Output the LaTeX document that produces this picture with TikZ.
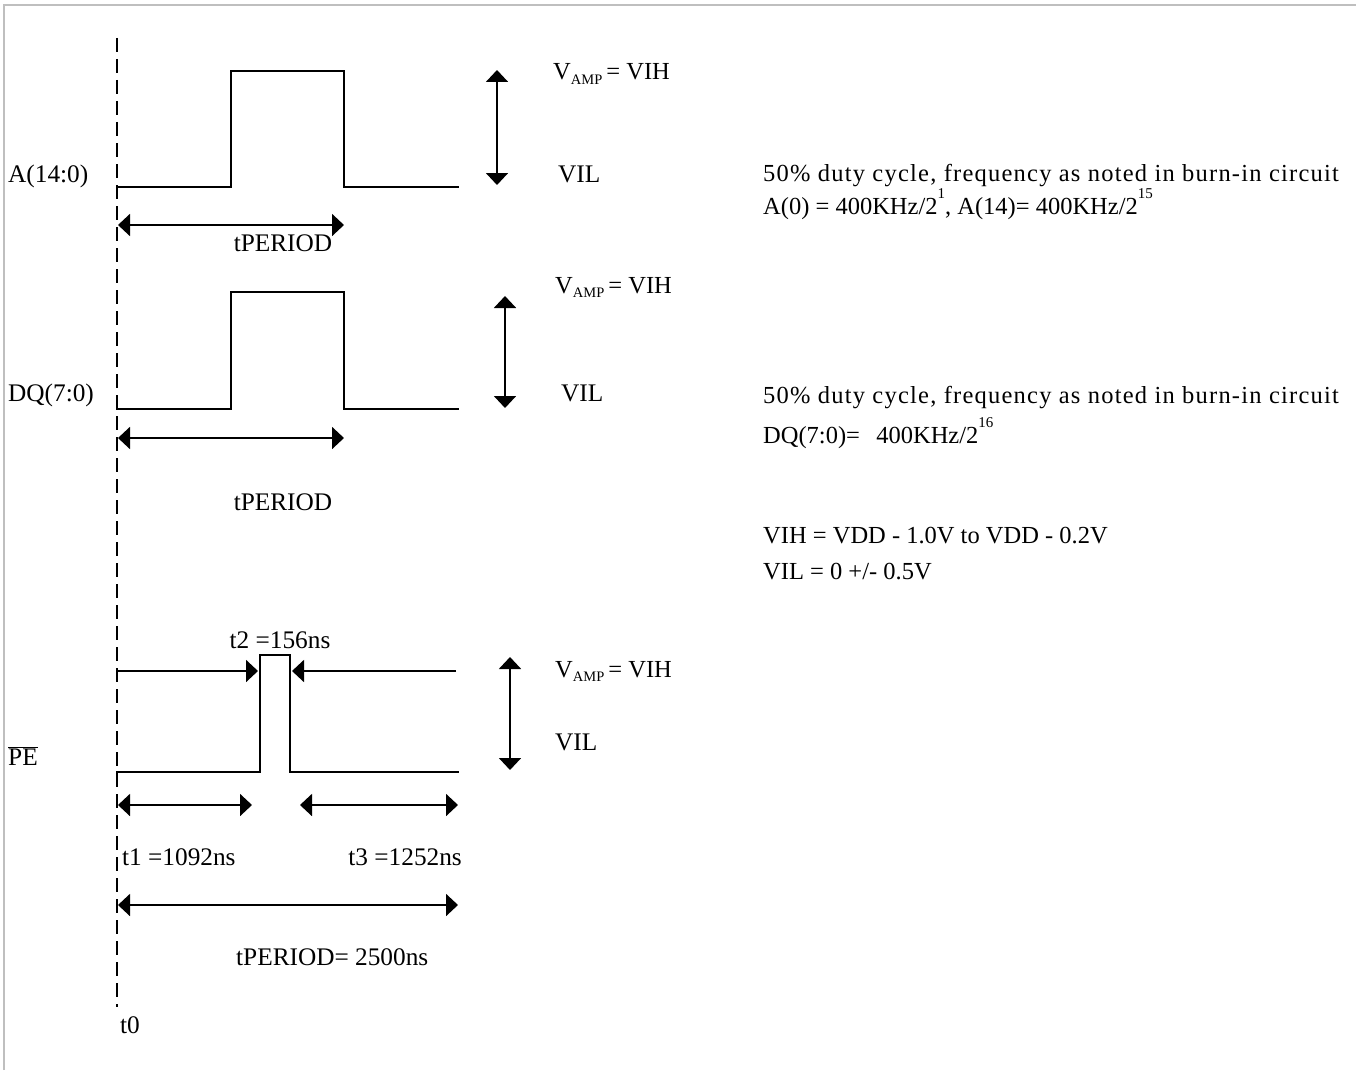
\documentclass[tikz,border=0pt]{standalone}
\usepackage{fontspec}
\setmainfont{Liberation Serif}
\usetikzlibrary{arrows.meta}
\newcommand{\vamp}{V\raisebox{-0.18em}{\fontsize{14.5}{15}\selectfont AMP}\,= VIH}
\newcommand{\supx}[1]{\raisebox{0.62em}{\fontsize{15}{15}\selectfont #1}}
\begin{document}
\begin{tikzpicture}[x=1pt,y=-1pt,
  wave/.style={line width=2.8pt, line join=miter, line cap=rect},
  dimline/.style={line width=1.9pt, {Triangle[length=12pt,width=22pt]}-{Triangle[length=12pt,width=22pt]}},
  onetip/.style={line width=1.9pt, -{Triangle[length=12pt,width=22pt]}},
  txt/.style={inner sep=0pt, anchor=base west, font=\fontsize{25.3}{29}\selectfont},
  txtc/.style={inner sep=0pt, anchor=base, font=\fontsize{25.3}{29}\selectfont},
  txte/.style={inner sep=0pt, anchor=base east, font=\fontsize{25.3}{29}\selectfont},
  note/.style={inner sep=0pt, anchor=base west, font=\fontsize{24.5}{29}\selectfont},
  wide/.style={inner sep=0pt, anchor=base west, font=\fontsize{24.5}{29}\selectfont\addfontfeature{LetterSpace=5}},
  tline/.style={line width=2pt, dash pattern=on 14pt off 7pt},
  frame/.style={line width=2pt, draw=black!25}
]
\useasboundingbox (0,0) rectangle (1356,1070);
\draw[frame] (4,1070) -- (4,5) -- (1356,5);

% time origin
\coordinate (t0top) at (117,38);
\coordinate (t0bot) at (117,1007);
\draw[tline] (t0top) -- (t0bot);
\node[txt] (t0) at (120,1033) {t0};

% ---------- A(14:0) ----------
\node[txt] (labA) at (8,182) {A(14:0)};
\coordinate (a0) at (117,187);
\draw[wave] (a0) -- (231,187) -- (231,71) -- (344,71) -- (344,187) -- (458,187);
\coordinate (aL) at (118,225);
\coordinate (aR) at (344,225);
\draw[dimline] (aL) -- (aR);
\node[txtc] (perA) at (283,251) {tPERIOD};
\coordinate (avT) at (497,70);
\coordinate (avB) at (497,185);
\draw[dimline] (avT) -- (avB);
\node[note] (vampA) at (553,80) {\vamp};
\node[txt] (vilA) at (558,182) {VIL};
\node[wide] (noteA1) at (763,181) {50\% duty cycle, frequency as noted in burn-in circuit};
\node[note] (noteA2) at (763,214) {A(0) = 400KHz/2\supx{1}, A(14)= 400KHz/2\supx{15}};

% ---------- DQ(7:0) ----------
\node[txt] (labD) at (8,401) {DQ(7:0)};
\coordinate (d0) at (117,409);
\draw[wave] (d0) -- (231,409) -- (231,292) -- (344,292) -- (344,409) -- (458,409);
\coordinate (dL) at (118,438);
\coordinate (dR) at (344,438);
\draw[dimline] (dL) -- (dR);
\node[txtc] (perD) at (283,510) {tPERIOD};
\coordinate (dvT) at (505,296);
\coordinate (dvB) at (505,408);
\draw[dimline] (dvT) -- (dvB);
\node[note] (vampD) at (555,293) {\vamp};
\node[txt] (vilD) at (561,401) {VIL};
\node[wide] (noteD1) at (763,403) {50\% duty cycle, frequency as noted in burn-in circuit};
\node[note] (noteD2) at (763,443) {DQ(7:0)=\ \ \,400KHz/2\supx{16}};
\node[note] (noteV1) at (763,543) {VIH = VDD - 1.0V to VDD - 0.2V};
\node[note] (noteV2) at (763,579) {VIL = 0 +/- 0.5V};

% ---------- PE ----------
\node[txt] (labP) at (8,765) {$\overline{\hbox{PE}}$};
\coordinate (p0) at (117,772);
\draw[wave] (p0) -- (260,772) -- (260,655) -- (290,655) -- (290,772) -- (458,772);
\coordinate (pA1) at (117,671);
\coordinate (pA2) at (258,671);
\draw[onetip] (pA1) -- (pA2);
\coordinate (pB1) at (456,671);
\coordinate (pB2) at (292,671);
\draw[onetip] (pB1) -- (pB2);
\node[txtc] (t2) at (280,648) {t2 =156ns};
\coordinate (pvT) at (510,657);
\coordinate (pvB) at (510,770);
\draw[dimline] (pvT) -- (pvB);
\node[note] (vampP) at (555,677) {\vamp};
\node[txt] (vilP) at (555,750) {VIL};
\coordinate (q1) at (118,805);
\coordinate (q2) at (252,805);
\draw[dimline] (q1) -- (q2);
\coordinate (q3) at (300,805);
\coordinate (q4) at (458,805);
\draw[dimline] (q3) -- (q4);
\node[txt] (t1) at (122,865) {t1 =1092ns};
\node[txte] (t3) at (462,865) {t3 =1252ns};
\coordinate (r1) at (118,905);
\coordinate (r2) at (458,905);
\draw[dimline] (r1) -- (r2);
\node[txt] (perP) at (236,965) {tPERIOD= 2500ns};
\end{tikzpicture}
\end{document}
